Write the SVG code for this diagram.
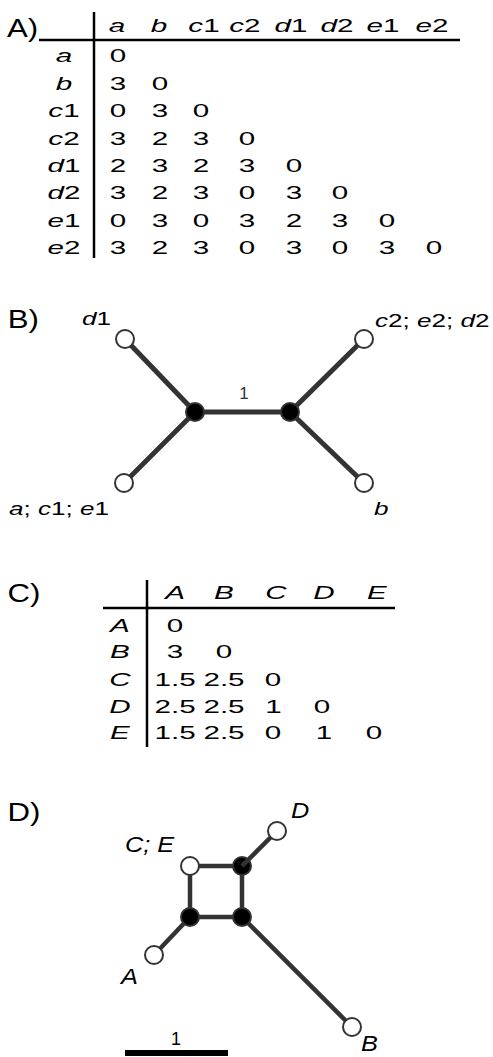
<svg xmlns="http://www.w3.org/2000/svg" width="493" height="1057" viewBox="0 0 493 1057">
<style>
text{font-family:"Liberation Sans",Arial,sans-serif;fill:#000}
.pl{font-size:26px}
.t{font-size:18.5px;text-anchor:middle}
.lb{font-size:18px}
.ld{font-size:22px;font-style:italic}
.i{font-style:italic}
.rule{stroke:#000;stroke-width:2.5;fill:none}
.e{stroke:#333;stroke-width:5;fill:none}
.e2{stroke:#333;stroke-width:4.5;fill:none}
.open{fill:#fff;stroke:#333;stroke-width:2}
.blk{fill:#000;stroke:#333;stroke-width:2}
</style>
<rect width="493" height="1057" fill="#fff"/>

<g id="panel-letters" transform="scale(1.2 1)">
<text class="pl" x="5.8" y="37">A)</text>
<text class="pl" x="6.4" y="328">B)</text>
<text class="pl" x="6.25" y="602">C)</text>
<text class="pl" x="6.25" y="821">D)</text>
</g>

<g id="tableA">
<line class="rule" x1="39" y1="40" x2="460" y2="40"/>
<line class="rule" x1="94" y1="12" x2="94" y2="258"/>
<g transform="scale(1.6 1)">
<text class="t i" x="73.1" y="32">a</text>
<text class="t i" x="99.4" y="32">b</text>
<text class="t" x="127.5" y="32"><tspan class="i">c</tspan>1</text>
<text class="t" x="153.1" y="32"><tspan class="i">c</tspan>2</text>
<text class="t" x="181.9" y="32"><tspan class="i">d</tspan>1</text>
<text class="t" x="210.6" y="32"><tspan class="i">d</tspan>2</text>
<text class="t" x="239.4" y="32"><tspan class="i">e</tspan>1</text>
<text class="t" x="270" y="32"><tspan class="i">e</tspan>2</text>

<text class="t i" x="40" y="62">a</text>
<text class="t i" x="40" y="90">b</text>
<text class="t" x="40" y="117"><tspan class="i">c</tspan>1</text>
<text class="t" x="40" y="145"><tspan class="i">c</tspan>2</text>
<text class="t" x="40" y="172"><tspan class="i">d</tspan>1</text>
<text class="t" x="40" y="199"><tspan class="i">d</tspan>2</text>
<text class="t" x="40" y="227"><tspan class="i">e</tspan>1</text>
<text class="t" x="40" y="254"><tspan class="i">e</tspan>2</text>

<text class="t" y="62"><tspan x="73.75">0</tspan></text>
<text class="t" y="90"><tspan x="73.75">3</tspan><tspan x="100">0</tspan></text>
<text class="t" y="117"><tspan x="73.75">0</tspan><tspan x="100">3</tspan><tspan x="125.6">0</tspan></text>
<text class="t" y="145"><tspan x="73.75">3</tspan><tspan x="100">2</tspan><tspan x="125.6">3</tspan><tspan x="154.4">0</tspan></text>
<text class="t" y="172"><tspan x="73.75">2</tspan><tspan x="100">3</tspan><tspan x="125.6">2</tspan><tspan x="154.4">3</tspan><tspan x="183.75">0</tspan></text>
<text class="t" y="199"><tspan x="73.75">3</tspan><tspan x="100">2</tspan><tspan x="125.6">3</tspan><tspan x="154.4">0</tspan><tspan x="183.75">3</tspan><tspan x="212.5">0</tspan></text>
<text class="t" y="227"><tspan x="73.75">0</tspan><tspan x="100">3</tspan><tspan x="125.6">0</tspan><tspan x="154.4">3</tspan><tspan x="183.75">2</tspan><tspan x="212.5">3</tspan><tspan x="241.9">0</tspan></text>
<text class="t" y="254"><tspan x="73.75">3</tspan><tspan x="100">2</tspan><tspan x="125.6">3</tspan><tspan x="154.4">0</tspan><tspan x="183.75">3</tspan><tspan x="212.5">0</tspan><tspan x="241.9">3</tspan><tspan x="271.25">0</tspan></text>
</g>
</g>

<g id="treeB-connectors">
<line class="e" x1="195" y1="412" x2="290" y2="412"/>
<line class="e" x1="195" y1="412" x2="125" y2="339"/>
<line class="e" x1="195" y1="412" x2="124" y2="483"/>
<line class="e" x1="290" y1="412" x2="364" y2="339"/>
<line class="e" x1="290" y1="412" x2="364" y2="483"/>
</g>
<g id="B-edge-label"><text x="244" y="399" style="font-size:17px;fill:#333;text-anchor:middle">1</text></g>
<g id="B-inner-left"><circle class="blk" cx="195" cy="412" r="9"/></g>
<g id="B-inner-right"><circle class="blk" cx="290" cy="412" r="9"/></g>
<g id="B-d1"><circle class="open" cx="125" cy="339" r="9"/>
<text class="lb" transform="scale(1.45 1)" x="56.6" y="325"><tspan class="i">d</tspan>1</text></g>
<g id="B-c2e2d2"><circle class="open" cx="364" cy="339" r="9"/>
<text class="lb" transform="scale(1.45 1)" x="258.6" y="327"><tspan class="i">c</tspan>2; <tspan class="i">e</tspan>2; <tspan class="i">d</tspan>2</text></g>
<g id="B-ac1e1"><circle class="open" cx="124" cy="483" r="9"/>
<text class="lb" transform="scale(1.45 1)" x="6.2" y="515"><tspan class="i">a</tspan>; <tspan class="i">c</tspan>1; <tspan class="i">e</tspan>1</text></g>
<g id="B-b"><circle class="open" cx="364" cy="483" r="9"/>
<text class="lb i" transform="scale(1.45 1)" x="257.9" y="515">b</text></g>

<g id="tableC">
<line class="rule" x1="103" y1="608" x2="395" y2="608"/>
<line class="rule" x1="147" y1="580" x2="147" y2="747"/>
<g transform="scale(1.6 1)">
<text class="t i" x="109.4" y="599">A</text>
<text class="t i" x="140" y="599">B</text>
<text class="t i" x="172.5" y="599">C</text>
<text class="t i" x="202.5" y="599">D</text>
<text class="t i" x="235.6" y="599">E</text>
<text class="t i" x="75" y="632">A</text>
<text class="t i" x="75" y="658">B</text>
<text class="t i" x="75" y="686">C</text>
<text class="t i" x="75" y="713">D</text>
<text class="t i" x="75" y="739">E</text>
<text class="t" y="632"><tspan x="109.4">0</tspan></text>
<text class="t" y="658"><tspan x="109.4">3</tspan><tspan x="140">0</tspan></text>
<text class="t" y="686"><tspan x="109.4">1.5</tspan><tspan x="140">2.5</tspan><tspan x="170.6">0</tspan></text>
<text class="t" y="713"><tspan x="109.4">2.5</tspan><tspan x="140">2.5</tspan><tspan x="171">1</tspan><tspan x="201.25">0</tspan></text>
<text class="t" y="739"><tspan x="109.4">1.5</tspan><tspan x="140">2.5</tspan><tspan x="170.6">0</tspan><tspan x="202.5">1</tspan><tspan x="233.75">0</tspan></text>
</g>
</g>

<g id="networkD-connectors">
<line class="e2" x1="190" y1="866" x2="242" y2="866"/>
<line class="e2" x1="242" y1="866" x2="242" y2="917"/>
<line class="e2" x1="242" y1="917" x2="190" y2="917"/>
<line class="e2" x1="190" y1="917" x2="190" y2="866"/>
<line class="e2" x1="190" y1="917" x2="154" y2="955"/>
<line class="e2" x1="242" y1="917" x2="352" y2="1027"/>
</g>
<g id="D-n-tr"><circle class="blk" cx="242" cy="866" r="9"/>
<line class="e2" x1="242" y1="866" x2="277" y2="831"/></g>
<g id="D-n-bl"><circle class="blk" cx="190" cy="917" r="9"/></g>
<g id="D-n-br"><circle class="blk" cx="242" cy="917" r="9"/></g>
<g id="D-CE"><circle class="open" cx="190" cy="866" r="9"/>
<text class="ld" transform="scale(1.15 1)" x="108.7" y="852">C; E</text></g>
<g id="D-D"><circle class="open" cx="277" cy="831" r="9"/>
<text class="ld" transform="scale(1.15 1)" x="253" y="818">D</text></g>
<g id="D-A"><circle class="open" cx="154" cy="955" r="9"/>
<text class="ld" transform="scale(1.15 1)" x="105.2" y="984">A</text></g>
<g id="D-B"><circle class="open" cx="352" cy="1027" r="9"/>
<text class="ld" transform="scale(1.15 1)" x="314" y="1051">B</text></g>

<g id="scalebar">
<line x1="125" y1="1053" x2="228" y2="1053" stroke="#000" stroke-width="6"/>
<text x="176" y="1045" style="font-size:18px;text-anchor:middle">1</text>
</g>
</svg>
